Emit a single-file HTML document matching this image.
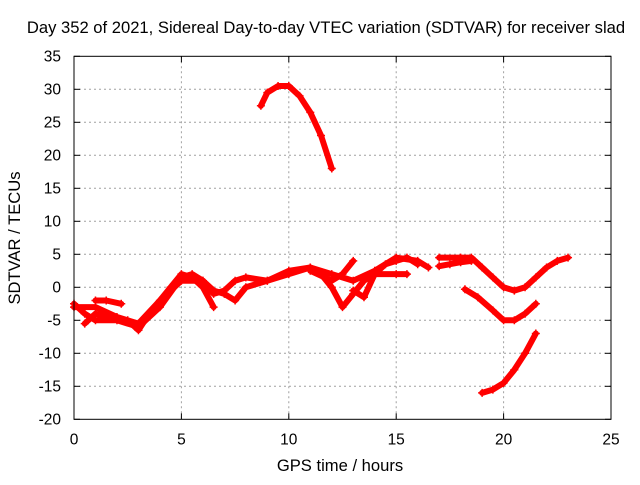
<!DOCTYPE html>
<html><head><meta charset="utf-8"><style>
body{margin:0;background:#fff;}
svg text{font-family:"Liberation Sans",sans-serif;font-size:15.5px;fill:#000;}
svg text.big{font-size:16.6px;}
</style></head><body>
<svg id="chart" width="640" height="480" xmlns="http://www.w3.org/2000/svg">
<rect width="640" height="480" fill="#fff"/>
<g id="grid"></g>
<g id="series"></g>
<g id="axes"></g>
<text class="big" x="326" y="33" text-anchor="middle">Day 352 of 2021, Sidereal Day-to-day VTEC variation (SDTVAR) for receiver slad</text>
<text class="big" x="340" y="471" text-anchor="middle">GPS time / hours</text>
<text class="big" transform="translate(20,238) rotate(-90)" text-anchor="middle">SDTVAR / TECUs</text>
</svg>
<script>
const xTicks=[0,5,10,15,20,25];
const yTicks=[-20,-15,-10,-5,0,5,10,15,20,25,30,35];
const arcHigh=[[8.7,27.5],[9,29.5],[9.5,30.5],[10,30.5],[10.5,29],[11,26.5],[11.5,23],[12,18]];
const arcLow=[[19,-16],[19.5,-15.5],[20,-14.5],[20.5,-12.5],[21,-10],[21.5,-7]];
const arcDip=[[18.2,-0.3],[18.8,-1.5],[19.5,-3.5],[20,-5],[20.5,-5],[21,-4],[21.5,-2.5]];
const arcLate=[[17,4.5],[18,4.5],[18.5,4.5],[19,3],[19.5,1.5],[20,0],[20.5,-0.5],[21,0],[21.5,1.5],[22,3],[22.5,4],[23,4.5]];
const arcLate2=[[17,3.2],[17.5,3.5],[18,3.8],[18.5,4]];
const arcA=[[0,-2.5],[0.5,-4],[1,-5],[2,-5],[3,-6],[4,-3],[5,1.5],[5.5,2],[6,1],[6.5,-1],[7,-0.5],[7.5,1],[8,1.5],[9,1],[10,2],[11,3],[12,2],[13,1],[14,2.5],[15,4.5],[16,4],[16.5,3]];
const arcB=[[0,-3],[1,-3],[2,-4.5],[3,-5.5],[4,-2],[5,1],[6,1],[6.5,-0.5],[7,-1],[7.5,-2],[8,0],[9,1],[10,2.5],[11,3],[11.5,2],[12,0],[12.5,-3],[13,-1],[13.5,1],[14,2],[15,2],[15.5,2]];
const arcC=[[0.5,-5.5],[1,-4],[1.5,-4.5],[2.5,-5],[3,-6.5],[3.5,-4],[4.5,0],[5,2],[5.5,1.5],[6,0],[6.5,-3]];
const arcD=[[1,-2],[1.5,-2],[2.2,-2.5]];
const arcE=[[11,2.5],[12,1],[12.5,2],[13,4]];
const arcF=[[13,-0.5],[13.5,-1.5],[14,2],[14.5,3.5],[15,4],[15.5,4.5],[16,3.5]];
const arcs=[arcHigh,arcLow,arcDip,arcLate,arcLate2,arcA,arcB,arcC,arcD,arcE,arcF];
const X0=74,X1=611,Y0=419.3,Y1=56.3;
const sx=v=>X0+(v-0)/25*(X1-X0);
const sy=v=>Y0-(v+20)/55*(Y0-Y1);
const NS="http://www.w3.org/2000/svg";
const grid=document.getElementById('grid'),axes=document.getElementById('axes'),ser=document.getElementById('series');
function mk(t,a,p){const e=document.createElementNS(NS,t);for(const k in a)e.setAttribute(k,a[k]);p.appendChild(e);return e;}
xTicks.forEach(t=>{
 if(t>0&&t<25){const g=mk('line',{x1:sx(t),x2:sx(t),y1:Y1,y2:Y0,stroke:'#a0a0a0','stroke-dasharray':'2,3'},grid);
 
 }
 mk('line',{x1:sx(t),x2:sx(t),y1:Y0,y2:Y0-6,stroke:'#000'},axes);
 mk('line',{x1:sx(t),x2:sx(t),y1:Y1,y2:Y1+6,stroke:'#000'},axes);
 const l=mk('text',{x:sx(t),y:Y0+25,'text-anchor':'middle'},axes);l.textContent=t;
 
 
});
yTicks.forEach(t=>{
 if(t>-20&&t<35){const g=mk('line',{x1:X0,x2:X1,y1:sy(t),y2:sy(t),stroke:'#a0a0a0','stroke-dasharray':'2,3'},grid);
 
 }
 mk('line',{x1:X0,x2:X0+6,y1:sy(t),y2:sy(t),stroke:'#000'},axes);
 mk('line',{x1:X1,x2:X1-6,y1:sy(t),y2:sy(t),stroke:'#000'},axes);
 const l=mk('text',{x:X0-13,y:sy(t)+5,'text-anchor':'end'},axes);l.textContent=t;
 
 
});
mk('rect',{x:X0,y:Y1,width:X1-X0,height:Y0-Y1,fill:'none',stroke:'#000'},axes);
arcs.forEach(a=>{
 const p=mk('polyline',{points:a.map(d=>sx(d[0])+','+sy(d[1])).join(' '),fill:'none',stroke:'#ff0000','stroke-width':6,'stroke-linejoin':'round','stroke-linecap':'round'},ser);
 
 
 a.forEach(d=>{
  const m=mk('path',{d:`M${sx(d[0])-4},${sy(d[1])}h8M${sx(d[0])},${sy(d[1])-4}v8`,stroke:'#ff0000','stroke-width':1.5},ser);
  
  
 });
});
</script>
</body></html>
